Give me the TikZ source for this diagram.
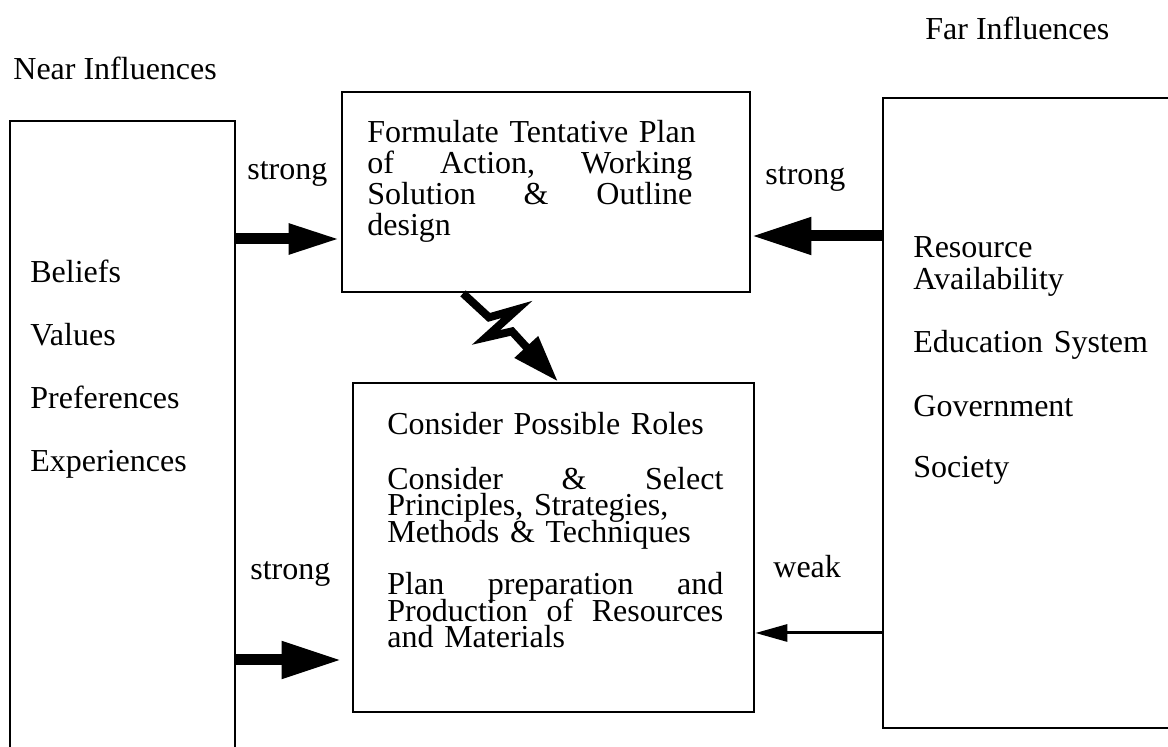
\documentclass[tikz,border=0pt]{standalone}
\usepackage{fontspec}
\setmainfont{Liberation Serif}
\usetikzlibrary{arrows.meta}
\newcommand{\jline}[1]{\leavevmode\hbox to \hsize{#1}}
\newcommand{\tightlines}{\lineskiplimit=-50pt\relax}
\begin{document}
\begin{tikzpicture}[x=0.5pt,y=-0.5pt,
  box/.style={draw, line width=1.4pt, inner sep=0pt},
  frame/.style={line width=1.4pt},
  lbl/.style={anchor=base west, inner sep=0pt, font=\fontsize{16}{16}\selectfont},
  para/.style={lbl, align=left, text width=#1},
  strongA/.style={line width=5.5pt, -{Triangle[length=26pt,width=14pt]}},
  strongB/.style={line width=5.5pt, -{Triangle[length=30pt,width=17.5pt]}},
  weakarr/.style={line width=1.5pt, -{Triangle[length=16pt,width=8.5pt]}},
  bolt/.style={line width=4pt, line join=miter, miter limit=20, -{Triangle[length=23.5pt,width=15pt]}}
]
\useasboundingbox (0,0) rectangle (1168,747);

% boxes
\node[box, minimum width=204pt, minimum height=100pt] (top) at (546,192) {};
\node[box, minimum width=200.5pt, minimum height=164.5pt] (bot) at (553.5,547.5) {};
\draw[frame] (10,747) -- (10,121) -- (235,121) -- (235,747);
\draw[frame] (1168,98) -- (883,98) -- (883,728) -- (1168,728);

\coordinate (nearA) at (235,239);
\coordinate (nearB) at (235,660);
\coordinate (farA) at (883,236);
\coordinate (farB) at (883,633);

% arrows
\draw[strongA] (nearA) -- (nearA -| top.west);
\draw[strongB] (farA) -- (farA -| top.east);
\draw[strongB] (nearB) -- ([xshift=-5pt]nearB -| bot.west);
\draw[weakarr] (farB) -- (farB -| bot.east);
\draw[bolt] ([xshift=-41.5pt]top.south) -- ++(26,24) -- ++(28,-8) -- ++(-31,28) -- ++(26,-6) -- ([xshift=2.25pt]bot.north);

% labels
\node[lbl] (near) at (13,80) {Near Influences};
\node[lbl] (far) at (925,40) {Far Influences};
\node[lbl] (s1) at (247,180) {strong};
\node[lbl] (s2) at (765,185) {strong};
\node[lbl] (s3) at (250,580) {strong};
\node[lbl] (w) at (773,578) {weak};

\node[para=100pt, font=\fontsize{16}{31.5}\selectfont] (nearlist) at (30,283)
  {\tightlines Beliefs\\Values\\Preferences\\Experiences};
\node[para=125pt, font=\fontsize{16}{16}\selectfont] (farlist) at (913,258)
  {\tightlines Resource\\Availability\\[15.5pt]Education System\\[16pt]Government\\[14.5pt]Society};

\node[para=162.5pt, font=\fontsize{16}{15.5}\selectfont] (toptext) at (367,143)
  {\tightlines\jline{Formulate\hfil\ Tentative\hfil\ Plan}\\
   \jline{of\hfil Action,\hfil Working}\\
   \jline{Solution\hfil \&\hfil Outline}\\
   design};
\node[para=168pt, font=\fontsize{16}{13.25}\selectfont] (bottext) at (387,435)
  {\tightlines Consider Possible Roles\\[14pt]
   \jline{Consider\hfil \&\hfil Select}\\
   Principles, Strategies,\\
   Methods \& Techniques\\[13pt]
   \jline{Plan\hfil preparation\hfil and}\\
   \jline{Production\hfil\ of\hfil\ Resources}\\
   and Materials};
\end{tikzpicture}
\end{document}
